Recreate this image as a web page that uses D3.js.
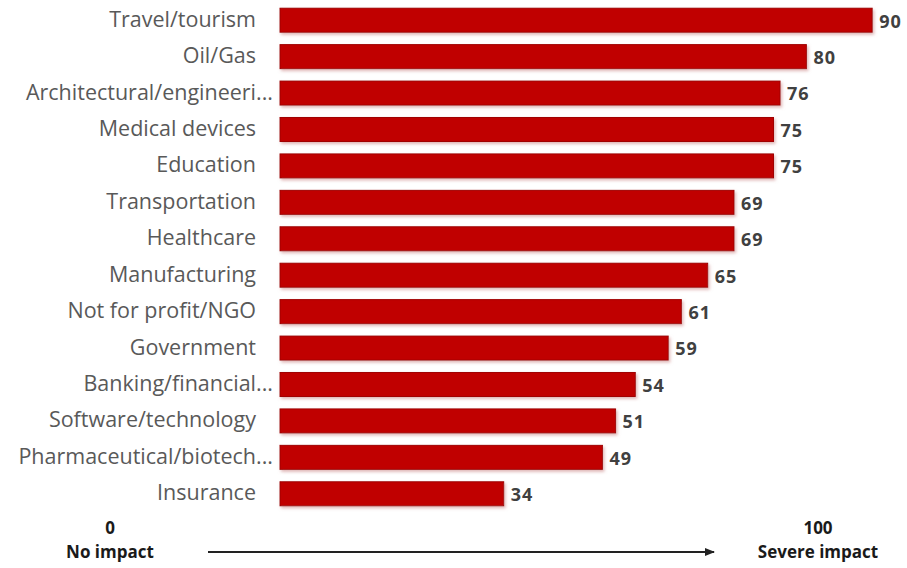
<!DOCTYPE html>
<html><head><meta charset="utf-8">
<script src="https://cdn.jsdelivr.net/npm/d3@7"></script>
<style>
html,body{margin:0;padding:0;background:#fff;}
svg{display:block;}
</style></head>
<body>
<script>
const categories = ["Travel/tourism","Oil/Gas","Architectural/engineeri...","Medical devices","Education","Transportation","Healthcare","Manufacturing","Not for profit/NGO","Government","Banking/financial...","Software/technology","Pharmaceutical/biotech...","Insurance"];
const values = [90,80,76,75,75,69,69,65,61,59,54,51,49,34];
const axisLabels = [{v:"0", t:"No impact"},{v:"100", t:"Severe impact"}];

const W = 907, H = 568;
const svg = d3.select("body").append("svg").attr("width", W).attr("height", H);

const defs = svg.append("defs");
const f = defs.append("filter").attr("id","sh").attr("x","-5%").attr("y","-30%").attr("width","110%").attr("height","170%");
f.append("feDropShadow").attr("dx",1.5).attr("dy",2).attr("stdDeviation",1.5).attr("flood-color","#c88").attr("flood-opacity",0.6);

const x = d3.scaleLinear().domain([0,100]).range([280, 938]);
const y = d3.scaleBand().domain(categories).range([2, 512]).paddingInner(0.34).paddingOuter(0.17);

const data = categories.map((c,i)=>({c, v: values[i]}));

svg.append("g").selectAll("rect").data(data).join("rect")
  .attr("x", x(0)).attr("y", d=>y(d.c))
  .attr("width", d=>x(d.v)-x(0)).attr("height", y.bandwidth())
  .attr("fill","#c00000").attr("stroke","#a00000").attr("stroke-width",1)
  .attr("filter","url(#sh)");

svg.append("g").selectAll("text").data(data).join("text")
  .attr("x", d=> d.c.endsWith("...") ? 273 : 256)
  .attr("y", d=>y(d.c)+y.bandwidth()/2 - 1)
  .attr("dy","0.35em").attr("text-anchor","end")
  .attr("font-family","'Open Sans', sans-serif").attr("font-size",21.5).attr("fill","#595959")
  .text(d=>d.c);

svg.append("g").selectAll("text").data(data).join("text")
  .attr("x", d=>x(d.v)+7)
  .attr("y", d=>y(d.c)+y.bandwidth()/2+1)
  .attr("dy","0.35em")
  .attr("font-family","'Open Sans', sans-serif").attr("font-weight","bold").attr("font-size",18).attr("letter-spacing",1).attr("fill","#404040")
  .text(d=>d.v);

const bx = [110, 818];
axisLabels.forEach((a,i)=>{
  svg.append("text").attr("x",bx[i]).attr("y",534).attr("text-anchor","middle")
    .attr("font-family","'Open Sans', sans-serif").attr("font-weight","bold").attr("font-size",17).attr("fill","#1a1a1a").text(a.v);
  svg.append("text").attr("x",bx[i]).attr("y",558).attr("text-anchor","middle")
    .attr("font-family","'Open Sans', sans-serif").attr("font-weight","bold").attr("font-size",17).attr("fill","#1a1a1a").text(a.t);
});
defs.append("marker").attr("id","ar").attr("viewBox","0 0 10 10").attr("refX",9).attr("refY",5)
  .attr("markerWidth",5).attr("markerHeight",5).attr("orient","auto")
  .append("path").attr("d","M0,1L10,5L0,9Z").attr("fill","#222");
svg.append("line").attr("x1",208).attr("x2",714).attr("y1",552).attr("y2",552)
  .attr("stroke","#222").attr("stroke-width",2).attr("marker-end","url(#ar)");
</script>
</body></html>
